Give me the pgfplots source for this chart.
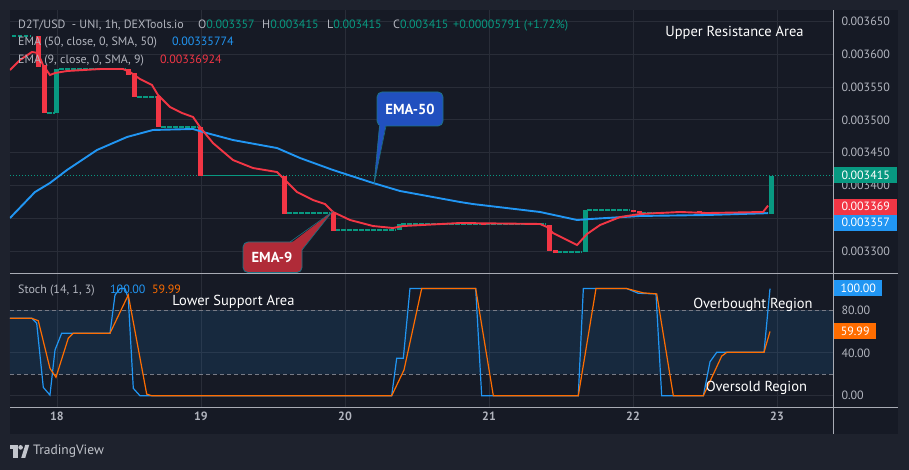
\documentclass[border=0pt]{standalone}
\usepackage{pgfplots}
\pgfplotsset{compat=1.18}
\usepackage{fontspec}
\setmainfont{PT Sans}
\definecolor{outerbg}{HTML}{1E222D}
\definecolor{chartbg}{HTML}{161A25}
\definecolor{gridc}{HTML}{292D38}
\definecolor{tvred}{HTML}{F23645}
\definecolor{tvgreen}{HTML}{089981}
\definecolor{tvblue}{HTML}{2196F3}
\definecolor{tvorange}{HTML}{FF6D00}
\definecolor{txtgray}{HTML}{B2B5BE}
\definecolor{sepc}{HTML}{A8ABB4}
\definecolor{lvlc}{HTML}{787B86}
\definecolor{calblue}{HTML}{2150BF}
\definecolor{calred}{HTML}{B02B38}
\definecolor{calborder}{HTML}{1E7384}
\definecolor{logoc}{HTML}{C2C5CC}
\newcommand{\fs}[1]{\fontsize{#1}{#1}\selectfont}

\pgfplotstableread{
h p
-7.83 0.0035759
-6.17 0.0035912
-4.17 0.0036034
-3.17 0.0036018
-2.33 0.0035835
-1.17 0.0035683
-0.33 0.0035713
1.67 0.0035744
7.17 0.0035774
11.0 0.0035774
12.17 0.0035729
13.83 0.0035622
15.83 0.0035531
16.83 0.0035378
18.83 0.0035195
20.83 0.0035104
22.67 0.0035043
23.83 0.0034890
26.0 0.0034646
29.33 0.0034387
32.67 0.0034265
36.67 0.0034204
37.67 0.0034113
40.0 0.0033899
42.67 0.0033777
44.67 0.0033716
46.0 0.0033595
48.83 0.0033473
52.67 0.0033381
56.0 0.0033351
57.67 0.0033381
67.17 0.0033427
80.5 0.0033412
81.67 0.0033366
82.67 0.0033274
86.67 0.0033091
88.33 0.0033259
90.5 0.0033396
93.83 0.0033518
97.17 0.0033564
103.83 0.0033595
108.33 0.0033579
117.67 0.0033595
118.5 0.0033692
}\emanine

\pgfplotstableread{
h p
-7.83 0.0033503
-3.67 0.0033899
-1.17 0.0034037
1.67 0.0034235
6.67 0.0034540
11.67 0.0034738
16.0 0.0034845
22.67 0.0034860
24.33 0.0034814
29.33 0.0034692
36.67 0.0034570
40.5 0.0034418
46.0 0.0034235
52.67 0.0034037
57.17 0.0033915
67.17 0.0033747
69.33 0.0033716
80.5 0.0033595
86.67 0.0033473
88.83 0.0033488
97.17 0.0033534
108.33 0.0033549
118.5 0.0033577
}\emafifty

\pgfplotstableread{
h v
-7.83 72.3
-4.22 72.3
-3.38 67.6
-2.28 7.8
-1.17 0.6
-0.33 42.7
0.78 58.3
8.83 58.3
9.67 94
10.5 100
11.33 100
11.88 91
12.72 6.9
13.83 0
55.78 0
56.62 35
57.72 35
58.83 100
69.78 100
70.78 0
86.88 0
87.72 100
94.95 100
96.88 95.6
99.83 95
100.78 0
107.72 0
108.83 31.7
109.95 40.5
117.83 40.5
118.83 100
}\stochk

\pgfplotstableread{
h v
-7.83 72.3
-4.22 72.3
-3.12 70
-1.17 25.6
-0.17 17.2
1.88 53.6
2.72 58.3
8.83 58.3
11.88 94
14.95 1.6
15.78 0
55.78 0
57.83 24
60.78 100
69.78 100
72.72 0
86.88 0
89.83 100
94.95 100
97.72 96
99.95 95
102.72 0
107.72 0
110.78 37
111.62 40.5
117.83 40.5
118.83 60
}\stochd

\begin{document}
\begin{tikzpicture}
\fill[outerbg] (0pt,0pt) rectangle (909pt,470pt);
\fill[chartbg] (10pt,36pt) rectangle (898pt,460pt);

% ---------- price panel ----------
\begin{axis}[
  at={(10pt,197pt)}, anchor=south west, scale only axis,
  width=823pt, height=263pt,
  xmin=-7.83, xmax=129.33,
  ymin=0.0032665, ymax=0.0036674,
  axis line style={draw=none}, tick style={draw=none},
  xtick={0,24,48,72,96,120}, xticklabels={},
  ytick={0.0033,0.00335,0.0034,0.00345,0.0035,0.00355,0.0036,0.00365},
  yticklabels={0.003300,{},0.003400,0.003450,0.003500,0.003550,0.003600,0.003650},
  yticklabel pos=right,
  yticklabel style={font=\fs{12}, text=txtgray, anchor=west, xshift=5pt},
  scaled y ticks=false,
  grid=major, major grid style={gridc, line width=0.8pt},
  unbounded coords=jump,
]
\addplot[tvgreen, line width=0.8pt, dash pattern=on 1pt off 2pt] coordinates {(-7.83,0.003415) (129.33,0.003415)};
\addplot[tvgreen, line width=1.1pt, dash pattern=on 4.5pt off 1.5pt] coordinates {
(-7.5,0.0036277) (-4.3,0.0036277) (-4.3,nan)
(-1.6,0.0035104) (-0.4,0.0035104) (-0.4,nan)
(0.4,0.0035774) (11.5,0.0035774) (11.5,nan)
(13.4,0.0035348) (16.5,0.0035348) (16.5,nan)
(17.4,0.0034890) (23.5,0.0034890) (23.5,nan)
(24.4,0.003415) (37.5,0.003415) (37.5,nan)
(38.4,0.0033579) (45.5,0.0033579) (45.5,nan)
(46.4,0.003332) (56.5,0.003332) (56.5,nan)
(57.4,0.0033412) (81.5,0.0033412) (81.5,nan)
(83.4,0.0032985) (87.5,0.0032985) (87.5,nan)
(88.4,0.0033625) (95.5,0.0033625) (95.5,nan)
(97.4,0.003359) (118.5,0.003359)
};
\addplot[tvred, line width=5pt] coordinates {
(-3,0.0036277) (-3,0.0035805) (-3,nan)
(-2,0.0035835) (-2,0.0035104) (-2,nan)
(12,0.0035774) (12,0.0035683) (12,nan)
(13,0.0035713) (13,0.0035348) (13,nan)
(17,0.0035363) (17,0.0034890) (17,nan)
(24,0.0034890) (24,0.0034143) (24,nan)
(38,0.003415) (38,0.0033564) (38,nan)
(46,0.0033579) (46,0.0033305) (46,nan)
(71,0.0033425) (71,0.0033400) (71,nan)
(82,0.0033396) (82,0.0033000) (82,nan)
(83,0.0033015) (83,0.0032970) (83,nan)
(96,0.0033625) (96,0.0033599) (96,nan)
(97,0.0033610) (97,0.0033584) (97,nan)
(107,0.0033612) (107,0.0033588)
};
\addplot[tvgreen, line width=5pt] coordinates {
(0,0.0035104) (0,0.0035774) (0,nan)
(57,0.0033320) (57,0.0033412) (57,nan)
(88,0.0032985) (88,0.0033625) (88,nan)
(119,0.003357) (119,0.003415)
};
\addplot[tvblue, line width=1.9pt] table[x=h,y=p] {\emafifty};
\addplot[tvred, line width=1.9pt] table[x=h,y=p] {\emanine};
\end{axis}

% ---------- stochastic panel ----------
\begin{axis}[
  at={(10pt,63pt)}, anchor=south west, scale only axis,
  width=823pt, height=133pt,
  xmin=-7.83, xmax=129.33, ymin=-10.5, ymax=113.6,
  axis line style={draw=none}, tick style={draw=none},
  xtick={0,24,48,72,96,120}, xticklabels={18,19,20,21,22,23},
  xticklabel style={font=\bfseries\fs{12}, text=txtgray, yshift=-1pt},
  ytick={0,40,80}, yticklabels={0.00,40.00,80.00},
  yticklabel pos=right,
  yticklabel style={font=\fs{12}, text=txtgray, anchor=west, xshift=5pt},
  grid=major, major grid style={gridc, line width=0.8pt},
]
\addplot[draw=none, fill=tvblue, fill opacity=0.12] coordinates {(-7.83,20) (129.33,20) (129.33,80) (-7.83,80) (-7.83,20)};
\addplot[lvlc, line width=0.8pt, dash pattern=on 4pt off 3pt] coordinates {(-7.83,80) (129.33,80)};
\addplot[lvlc, line width=0.8pt, dash pattern=on 4pt off 3pt] coordinates {(-7.83,20) (129.33,20)};
\addplot[tvblue, line width=1.2pt] table[x=h,y=v] {\stochk};
\addplot[tvorange, line width=1.2pt] table[x=h,y=v] {\stochd};
\end{axis}

% ---------- separators ----------
\draw[sepc, line width=0.9pt] (10pt,196.5pt) -- (898pt,196.5pt);
\draw[sepc, line width=0.9pt] (10pt,63pt) -- (898pt,63pt);
\draw[sepc, line width=0.9pt] (833.5pt,36pt) -- (833.5pt,460pt);

% ---------- legends ----------
\begin{scope}[every node/.style={inner sep=0pt, anchor=base west, font=\fs{12}, text=txtgray}]
\node at (18pt,441.5pt) {D2T/USD\ \ - UNI, 1h, DEXTools.io};
\node at (198pt,441.5pt) {O\textcolor{tvgreen}{0.003357}};
\node at (262pt,441.5pt) {H\textcolor{tvgreen}{0.003415}};
\node at (327pt,441.5pt) {L\textcolor{tvgreen}{0.003415}};
\node at (393pt,441.5pt) {C\textcolor{tvgreen}{0.003415}};
\node[text=tvgreen] at (453pt,441.5pt) {+0.00005791 (+1.72\%)};
\node at (18pt,424pt) {EMA (50, close, 0, SMA, 50)};
\node[text=tvblue] at (172pt,424pt) {0.00335774};
\node at (18pt,406.5pt) {EMA (9, close, 0, SMA, 9)};
\node[text=tvred] at (160pt,406.5pt) {0.00336924};
\node at (18pt,176pt) {Stoch (14, 1, 3)};
\node[text=tvblue] at (110pt,176pt) {100.00};
\node[text=tvorange] at (152pt,176pt) {59.99};
\end{scope}

% ---------- annotations ----------
\begin{scope}[every node/.style={inner sep=0pt, text=white, font=\fs{14.5}}]
\node at (734.5pt,437pt) {Upper Resistance Area};
\node at (233.5pt,168.3pt) {Lower Support Area};
\node at (753pt,165pt) {Overbought Region};
\node at (756.5pt,82pt) {Oversold Region};
\end{scope}

% EMA-50 callout
\fill[calblue, draw=calborder, line width=0.8pt, rounded corners=5pt] (377pt,344pt) rectangle (443pt,378pt);
\fill[calblue] (379.5pt,346pt) -- (386pt,346pt) -- (374pt,286pt) -- cycle;
\draw[calborder, line width=0.6pt] (379.5pt,344pt) -- (374pt,286pt) -- (386pt,344pt);
\node[text=white, font=\bfseries\fs{14.5}] at (410pt,361pt) {EMA-50};

% EMA-9 callout
\fill[calred, draw=calborder, line width=0.8pt, rounded corners=5pt] (243pt,197.5pt) rectangle (302pt,228pt);
\fill[calred] (290pt,226pt) -- (300pt,218pt) -- (332pt,258pt) -- cycle;
\draw[calborder, line width=0.6pt] (290pt,228pt) -- (332pt,258pt) -- (302pt,220pt);
\node[text=white, font=\bfseries\fs{14.5}] at (272pt,212.5pt) {EMA-9};

% ---------- price tags ----------
\begin{scope}[every node/.style={inner sep=0pt, text=white, font=\fs{12}, minimum height=16pt, anchor=west}]
\node[fill=tvgreen, minimum width=63pt] at (834pt,295pt) {0.003415};
\node[fill=tvred, minimum width=63pt] at (834pt,263.3pt) {0.003369};
\node[fill=tvblue, minimum width=63pt] at (834pt,247.3pt) {0.003357};
\node[fill=tvblue, minimum width=48pt] at (834pt,181.7pt) {100.00};
\node[fill=tvorange, minimum width=42pt] at (834pt,139pt) {59.99};
\end{scope}

% ---------- TradingView mark ----------
\fill[logoc] (10pt,20.5pt) rectangle (17.5pt,25pt);
\fill[logoc] (13.2pt,12pt) rectangle (17.5pt,25pt);
\fill[logoc] (20.6pt,22.6pt) circle (2.3pt);
\fill[logoc] (21.2pt,12pt) -- (25.2pt,12pt) -- (29.2pt,25pt) -- (25.2pt,25pt) -- cycle;
\node[inner sep=0pt, anchor=west, text=logoc, font=\fs{13.5}] at (33pt,18.5pt) {TradingView};
\end{tikzpicture}
\end{document}
